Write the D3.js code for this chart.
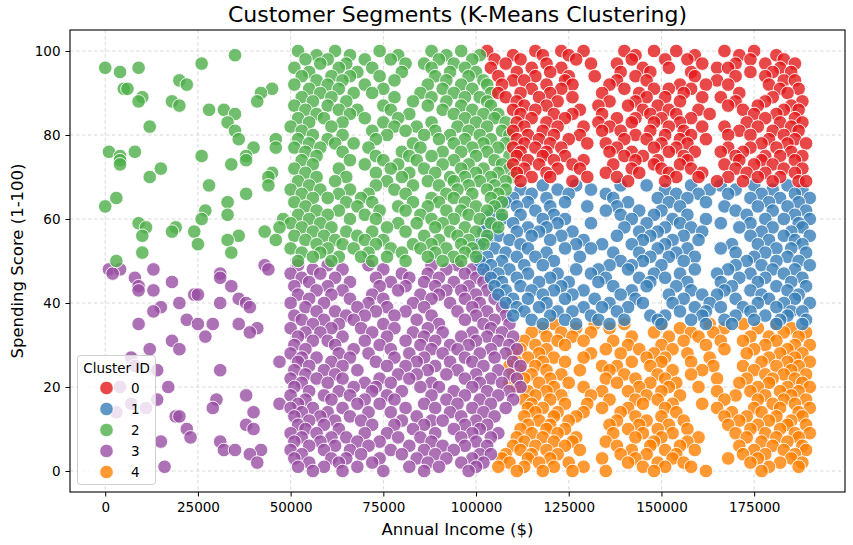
<!DOCTYPE html>
<html lang="en">
<head>
<meta charset="UTF-8">
<title>Customer Segments (K-Means Clustering)</title>
<script src="https://cdn.jsdelivr.net/npm/d3@7"></script>
<style>
  body { margin: 0; background: #fff; }
  text { font-family: "DejaVu Sans", sans-serif; fill: #000; }
</style>
</head>
<body>
<svg id="chart" width="853" height="545"></svg>
<script>
const clusterIds = [0, 1, 2, 3, 4];
const clusterColors = ["#e41a1c", "#377eb8", "#4daf4a", "#984ea3", "#ff7f00"];
const xTicks = [0, 25000, 50000, 75000, 100000, 125000, 150000, 175000];
const yTicks = [0, 20, 40, 60, 80, 100];

// each row: [spending score, annual incomes in $k ...]
const cluster0Rows = [
  [100, 103,116,123,129,140,148,154,167,175],
  [99, 110,118,125,143,159,171,181],
  [98, 105,112,127,142,151,157,174,183],
  [97, 108,119,131,138,161,170,178,186],
  [96, 104,115,123,145,152,165,168,182],
  [95, 111,120,139,147,158,174,180,185],
  [94, 106,116,125,132,143,159,170,178],
  [93, 110,113,124,138,146,165,183,186],
  [92, 107,119,126,136,155,162,168,179],
  [91, 115,123,140,148,152,158,182,187],
  [90, 106,112,120,134,144,156,171,184],
  [89, 108,117,126,146,151,161,166,180],
  [88, 111,122,136,143,155,170,178,188],
  [87, 113,119,133,141,149,168,176,185],
  [86, 110,116,128,145,152,160,172,183,187],
  [85, 112,121,126,134,147,154,163,175,181],
  [84, 115,124,138,143,150,158,178,186],
  [83, 111,119,133,142,148,155,173,182,188],
  [82, 113,122,129,136,152,161,167,176,185],
  [81, 110,118,134,139,147,156,171,180,187],
  [80, 114,121,128,143,151,158,168,174,183],
  [79, 111,117,125,140,146,155,162,179,186],
  [78, 113,120,130,135,150,157,177,184,189],
  [77, 110,116,123,138,148,154,168,174,181],
  [76, 112,119,136,142,152,159,166,172,185],
  [75, 111,118,124,140,145,156,170,178,182,188],
  [74, 114,121,129,143,149,157,171,177,186],
  [73, 110,117,126,137,148,155,167,175,180],
  [72, 113,122,128,142,150,158,170,183,188],
  [71, 111,119,135,144,152,161,173,178,186],
  [70, 115,120,130,138,154,160,168,176,182],
  [69, 112,126,141,151,165,172,180,187,189]
];

const cluster1Rows = [
  [68, 118,127,139,146,158,166,175,184],
  [67, 112,122,131,151,163,170,180,188],
  [66, 115,125,135,154,160,168,177,186],
  [65, 110,119,137,149,157,174,182,190],
  [64, 108,114,124,141,152,162,179,187],
  [63, 111,120,130,138,155,167,176,184],
  [62, 106,116,135,144,150,170,180,189],
  [61, 104,112,121,139,148,157,173,186],
  [60, 107,118,124,142,153,162,178,183,190],
  [59, 103,110,122,131,146,155,166,174,187],
  [58, 105,114,119,140,151,158,171,180,188],
  [57, 102,111,117,126,144,149,161,177,185],
  [56, 106,115,123,138,147,156,174,183,190],
  [55, 103,109,120,129,145,153,160,179,186],
  [54, 101,112,127,134,142,151,169,176,188],
  [53, 105,114,124,131,149,157,166,181,185],
  [52, 100,108,119,137,144,154,170,178,189],
  [51, 103,111,116,128,147,152,159,175,184],
  [50, 101,107,121,139,145,156,173,181,187],
  [49, 104,113,118,136,142,150,170,177,190],
  [48, 102,109,127,133,141,159,168,180,186],
  [47, 106,114,122,131,148,155,165,174,183],
  [46, 104,111,120,135,144,151,171,178,188],
  [45, 107,117,125,133,147,157,166,176,185],
  [44, 105,112,123,137,146,154,169,181,189],
  [43, 108,115,121,129,142,158,167,174,184],
  [42, 106,118,126,139,152,161,165,177,187],
  [41, 110,114,124,132,143,156,170,179,186],
  [40, 108,119,136,145,153,163,176,183,190],
  [39, 111,117,129,134,141,159,166,172,181],
  [38, 113,122,126,138,155,162,174,185,188],
  [37, 110,120,131,147,151,161,170,178,184],
  [36, 115,124,133,140,149,158,167,175,182,189],
  [35, 118,127,136,150,162,169,181,188]
];

const cluster2Rows = [
  [100, 52,62,74,88,96],
  [99, 35,57,66,79,92,101],
  [98, 54,60,70,77,90,99],
  [97, 26,58,65,81,86,94],
  [96, 0,9,51,63,72,88,97],
  [95, 4,55,68,80,93,100],
  [94, 53,61,66,74,89,98],
  [93, 20,57,64,78,92,102],
  [92, 22,51,60,70,87,96,103],
  [91, 5,6,45,55,63,75,91,99],
  [90, 42,58,67,72,85,94,104],
  [89, 10,53,61,78,88,97,101],
  [88, 9,18,41,56,65,83,92,103],
  [87, 20,51,60,75,87,96,104],
  [86, 28,32,54,63,68,77,91,99],
  [85, 35,57,66,82,94,102,106],
  [84, 52,59,70,79,97,105],
  [83, 33,55,64,75,88,100,108],
  [82, 12,50,61,78,84,95,103],
  [81, 35,53,72,81,89,98,107],
  [80, 56,64,76,86,93,101,109],
  [79, 36,46,52,60,73,90,97,104],
  [78, 55,62,67,83,94,102,108],
  [77, 40,46,51,58,71,85,99,106],
  [76, 1,8,54,64,80,91,96,103],
  [75, 4,26,38,57,73,82,88,100,109],
  [74, 4,38,53,66,75,84,94,105],
  [73, 4,34,56,70,79,91,98,107],
  [72, 15,51,63,77,86,96,102,109],
  [71, 45,54,73,82,89,100,106],
  [70, 12,44,57,65,80,93,97,104,110],
  [69, 52,62,76,87,94,101,108],
  [68, 28,44,55,73,83,90,98,105],
  [67, 50,58,66,78,95,103,108],
  [66, 38,53,63,71,81,92,99,106],
  [65, 3,56,60,69,88,94,104],
  [64, 33,51,65,72,83,90,97,107],
  [63, 0,54,68,79,87,100,105],
  [62, 27,57,63,74,81,92,96,103],
  [61, 33,52,60,70,85,98,107],
  [60, 26,48,55,66,73,88,94,101],
  [59, 9,50,58,79,84,91,104],
  [58, 11,19,47,53,61,76,89,97,106],
  [57, 18,24,43,56,65,72,81,93,100],
  [56, 10,36,51,59,68,86,95,103],
  [55, 33,46,54,62,70,75,90,98],
  [54, 25,57,64,73,83,88,96,102],
  [53, 50,60,67,77,85,92,99],
  [52, 10,34,53,58,71,80,89,97],
  [51, 56,63,69,76,87,94,100],
  [50, 3,52,61,72,81,91,96]
];

const cluster3Rows = [
  [49, 43,52,60,71,88,95,101],
  [48, 1,4,13,44,56,64,75,92,99],
  [47, 2,31,50,58,80,87,97,103],
  [46, 8,31,53,62,73,82,90,100],
  [45, 18,55,66,77,86,94,102],
  [44, 9,34,51,60,74,81,89,98],
  [43, 9,13,57,64,79,92,96,103],
  [42, 24,25,52,61,72,85,90,100],
  [41, 36,55,66,75,88,97,105],
  [40, 20,31,38,50,59,71,83,93,101],
  [39, 15,39,54,68,76,86,99,107],
  [38, 13,57,62,73,81,95,103],
  [37, 51,65,70,78,88,100,108],
  [36, 22,53,59,67,84,97,105],
  [35, 9,25,29,36,56,63,75,90,102,109],
  [34, 41,50,61,69,78,87,104],
  [33, 39,54,58,72,83,91,99,107],
  [32, 27,52,64,76,86,96,103,110],
  [31, 18,56,60,70,81,89,100,106],
  [30, 51,62,74,85,93,98,109],
  [29, 12,20,54,67,77,88,95,104,111],
  [28, 50,63,71,82,91,101,108],
  [27, 7,53,57,66,78,86,97,105],
  [26, 47,52,61,73,84,93,99,110],
  [25, 8,55,64,76,81,89,102,112],
  [24, 14,31,51,59,68,87,95,106],
  [23, 54,62,79,84,92,100,109],
  [22, 50,57,64,74,82,97,104,111],
  [21, 53,60,70,77,88,101,107],
  [20, 4,17,51,67,73,85,90,99,112],
  [19, 55,63,72,80,94,103,109],
  [18, 38,50,59,66,76,88,97,106],
  [17, 14,30,54,61,70,78,92,101,110],
  [16, 7,47,52,68,74,86,95,104],
  [15, 11,29,50,56,64,81,89,99,108],
  [14, 3,40,53,60,71,77,93,102],
  [13, 19,20,51,58,66,84,96,105],
  [12, 55,62,69,80,88,91,100],
  [11, 38,52,59,72,78,86,97,103],
  [10, 22,40,54,63,83,94,101],
  [9, 50,57,70,76,89,99,106],
  [8, 23,53,61,65,79,85,96,104],
  [7, 15,31,51,58,68,74,88,100],
  [6, 55,62,71,82,91,97,103],
  [5, 32,35,42,50,59,66,77,86,94],
  [4, 39,53,69,80,89,101,104],
  [3, 51,61,65,74,84,92,99],
  [2, 41,55,63,72,87,96,102],
  [1, 16,52,59,68,82,90,100],
  [0, 56,64,75,86,98]
];

const cluster4Rows = [
  [35, 121,132,140,150,163,172,181],
  [34, 118,127,136,155,167,176,185],
  [33, 115,123,131,148,158,164,183,189],
  [32, 119,126,142,152,160,174,179,187],
  [31, 113,122,129,137,156,166,172,181],
  [30, 116,124,141,150,162,178,186,190],
  [29, 112,119,135,144,153,167,175,184],
  [28, 110,117,131,139,148,157,173,182,188],
  [27, 114,121,129,146,151,163,179,186],
  [26, 111,118,124,142,150,158,177,184,190],
  [25, 109,116,134,138,147,164,172,181,187],
  [24, 112,119,128,136,153,161,175,185],
  [23, 110,115,123,140,149,158,178,183,189],
  [22, 113,120,135,143,151,165,173,180,186],
  [21, 109,117,125,138,147,154,171,179,188],
  [20, 111,121,129,144,152,160,176,184,190],
  [19, 114,119,134,141,150,165,174,182,187],
  [18, 116,123,131,146,155,170,178,185],
  [17, 113,120,136,143,149,167,176,183,189],
  [16, 115,124,130,145,153,161,180,186],
  [15, 114,118,134,141,151,165,175,182,190],
  [14, 116,122,129,139,154,169,177,187],
  [13, 113,121,127,143,150,167,173,181,188],
  [12, 117,125,138,146,156,171,179,185],
  [11, 114,120,136,144,152,168,176,184,189],
  [10, 112,119,124,141,149,157,174,182],
  [9, 115,122,137,145,153,170,178,186,190],
  [8, 111,118,127,143,150,160,173,181,187],
  [7, 113,121,126,135,148,157,177,184],
  [6, 110,116,124,138,147,155,171,180,188],
  [5, 112,119,128,142,151,159,175,183,189],
  [4, 108,115,122,139,146,154,172,178,186],
  [3, 107,114,120,134,143,153,168,176,185],
  [2, 109,117,125,141,149,156,174,182,188],
  [1, 106,113,121,129,145,151,158,179,187],
  [0, 111,118,126,135,148,162,177]
];

const clusterRows = [cluster0Rows, cluster1Rows, cluster2Rows, cluster3Rows, cluster4Rows];

const width = 853, height = 545;
const margin = {left: 70, right: 8, top: 30, bottom: 53};

const svg = d3.select("#chart");

const x = d3.scaleLinear().domain([-9500, 199500]).range([margin.left, width - margin.right]);
const y = d3.scaleLinear().domain([-5, 105]).range([height - margin.bottom, margin.top]);

// flatten rows into points, interleave clusters roughly like a single scatter call
const perCluster = clusterRows.map((rows, c) =>
  rows.flatMap(r => r.slice(1).map(k => ({income: k * 1000, score: r[0], cluster: clusterIds[c]}))));
const points = [];
const maxLen = d3.max(perCluster, p => p.length);
for (let i = 0; i < maxLen; i++) {
  perCluster.forEach(p => { if (i < p.length) points.push(p[i]); });
}

// grid
const grid = svg.append("g");
grid.selectAll("line.gx").data(xTicks).enter().append("line")
  .attr("x1", d => x(d)).attr("x2", d => x(d))
  .attr("y1", margin.top).attr("y2", height - margin.bottom)
  .attr("stroke", "#cfcfcf").attr("stroke-width", 0.8).attr("stroke-dasharray", "3.5,2.5");
grid.selectAll("line.gy").data(yTicks).enter().append("line")
  .attr("x1", margin.left).attr("x2", width - margin.right)
  .attr("y1", d => y(d)).attr("y2", d => y(d))
  .attr("stroke", "#cfcfcf").attr("stroke-width", 0.8).attr("stroke-dasharray", "3.5,2.5");

// points
svg.append("g").selectAll("circle").data(points).enter().append("circle")
  .attr("cx", d => x(d.income))
  .attr("cy", d => y(d.score))
  .attr("r", 6.8)
  .attr("fill", d => clusterColors[d.cluster])
  .attr("fill-opacity", 0.8)
  .attr("stroke", "#fff")
  .attr("stroke-width", 0.9);

// axes
const xAxis = svg.append("g")
  .attr("transform", `translate(0,${height - margin.bottom})`)
  .call(d3.axisBottom(x).tickValues(xTicks).tickFormat(d3.format("d")).tickSize(4.5).tickPadding(6));
const yAxis = svg.append("g")
  .attr("transform", `translate(${margin.left},0)`)
  .call(d3.axisLeft(y).tickValues(yTicks).tickSize(4.5).tickPadding(5));
[xAxis, yAxis].forEach(a => {
  a.select(".domain").remove();
  a.selectAll("text").style("font-size", "13.5px").attr("fill", "#000");
  a.selectAll("line").attr("stroke", "#000").attr("stroke-width", 1);
});

// frame
svg.append("rect")
  .attr("x", margin.left).attr("y", margin.top)
  .attr("width", width - margin.left - margin.right)
  .attr("height", height - margin.top - margin.bottom)
  .attr("fill", "none").attr("stroke", "#000").attr("stroke-width", 1.1);

// titles
svg.append("text")
  .attr("x", (margin.left + width - margin.right) / 2).attr("y", 22)
  .attr("text-anchor", "middle").style("font-size", "22px")
  .text("Customer Segments (K-Means Clustering)");
svg.append("text")
  .attr("x", (margin.left + width - margin.right) / 2).attr("y", 535)
  .attr("text-anchor", "middle").style("font-size", "16.5px")
  .text("Annual Income ($)");
svg.append("text")
  .attr("transform", `translate(23,${(margin.top + height - margin.bottom) / 2}) rotate(-90)`)
  .attr("text-anchor", "middle").style("font-size", "16.5px")
  .text("Spending Score (1-100)");

// legend
const legend = svg.append("g");
legend.append("rect")
  .attr("x", 77.5).attr("y", 355.5).attr("width", 78).attr("height", 129).attr("rx", 3)
  .attr("fill", "#fff").attr("fill-opacity", 0.8)
  .attr("stroke", "#d0d0d0").attr("stroke-width", 1);
legend.append("text")
  .attr("x", 116.5).attr("y", 373).attr("text-anchor", "middle")
  .style("font-size", "13.5px").text("Cluster ID");
const items = legend.selectAll("g.item").data(clusterIds).enter().append("g")
  .attr("transform", (d, i) => `translate(0,${388 + i * 21})`);
items.append("circle")
  .attr("cx", 106.5).attr("r", 6.8)
  .attr("fill", d => clusterColors[d]).attr("fill-opacity", 0.8)
  .attr("stroke", "#fff").attr("stroke-width", 0.9);
items.append("text")
  .attr("x", 131).attr("y", 5)
  .style("font-size", "13.5px").text(d => d);
</script>
</body>
</html>
